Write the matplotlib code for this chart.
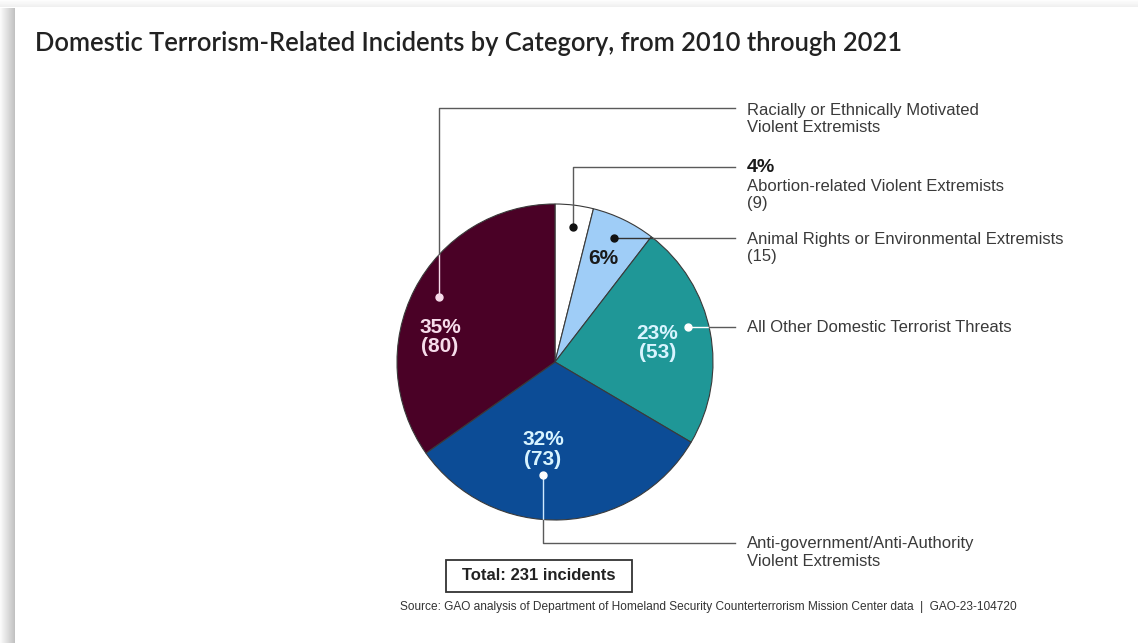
import numpy as np
import matplotlib.pyplot as plt
from matplotlib.patches import Rectangle

# data (clockwise from 12 o'clock)
categories = ['Abortion-related Violent Extremists',
              'Animal Rights or Environmental Extremists',
              'All Other Domestic Terrorist Threats',
              'Anti-government/Anti-Authority\nViolent Extremists',
              'Racially or Ethnically Motivated\nViolent Extremists']
counts = [9, 15, 53, 73, 80]
pct_labels = ['4%', '6%', '23%', '32%', '35%']
total_label = 'Total: 231 incidents'
title = 'Domestic Terrorism-Related Incidents by Category, from 2010 through 2021'
source = ('Source: GAO analysis of Department of Homeland Security Counterterrorism '
          'Mission Center data  |  GAO-23-104720')

colors = ['#ffffff', '#9fcdf7', '#1f9797', '#0c4c96', '#4a0126']
W, H = 1138, 643

fig = plt.figure(figsize=(W / 100, H / 100), dpi=100)
ax = fig.add_axes([0, 0, 1, 1])
ax.axis('off')

# card shadow on the left and top edges
for i in range(15):
    a = 0.45 * (i + 1) / 15
    ax.add_patch(Rectangle((i, 0), 1, H - 8, color='#777777', alpha=a, lw=0))
for i in range(7):
    a = 0.12 * (7 - i) / 7
    ax.add_patch(Rectangle((0, H - 7 + i), W, 1, color='#888888', alpha=a, lw=0))

cx, cy, R = 555, 281, 158
wedges, _ = ax.pie(counts, colors=colors, startangle=90, counterclock=False,
                   center=(cx, cy), radius=R,
                   wedgeprops=dict(edgecolor='#3a3a3a', linewidth=0.8))
ax.set_xlim(0, W)
ax.set_ylim(0, H)
ax.set_aspect('equal')


def polar(theta_deg, r):
    t = np.deg2rad(theta_deg)
    return cx + r * np.cos(t), cy + r * np.sin(t)


mids = [(w.theta1 + w.theta2) / 2 for w in wedges]

# percentage labels inside slices (angle offset, radius fraction)
lab_pos = [None, (0.8, 0.72), (-0.5, 0.66), (-10.2, 0.56), (15.1, 0.745)]
lab_col = [None, '#1a1a1a', '#d8f4ff', '#d8f4ff', '#f6dcea']
for i, p in enumerate(lab_pos):
    if p is None:
        continue
    x, y = polar(mids[i] + p[0], R * p[1])
    txt = pct_labels[i] if i == 1 else f'{pct_labels[i]}\n({counts[i]})'
    ax.text(x, y, txt, ha='center', va='center', fontsize=15, fontweight='bold',
            color=lab_col[i], family='Liberation Sans', linespacing=1.05)

line_col = '#5a5a5a'
xend = 735
xtext = 747
tkw = dict(family='Liberation Sans', fontsize=12, color='#3a3a3a', va='center')

# dot positions (angle offset, radius fraction) and inner line colours
dot_pos = [(-0.56, 0.86), (0.5, 0.87), (3.7, 0.87), (-8.4, 0.72), (-2.1, 0.84)]
dot_col = ['#111111', '#111111', '#ffffff', '#ffffff', '#f6dcea']
inner_col = ['#333333', '#333333', '#ffffff', '#cfe9ff', '#f6dcea']
elbow_y = [H - 167, None, None, H - 543, H - 108]

for i in range(5):
    dx, dy = polar(mids[i] + dot_pos[i][0], R * dot_pos[i][1])
    ey = elbow_y[i]
    if ey is None:
        # horizontal run straight out to the right
        edge_x = cx + np.sqrt(max(R ** 2 - (dy - cy) ** 2, 0))
        ax.plot([dx, edge_x], [dy, dy], color=inner_col[i], lw=1, zorder=3)
        ax.plot([edge_x, xend], [dy, dy], color=line_col, lw=1, zorder=3)
    else:
        half = np.sqrt(max(R ** 2 - (dx - cx) ** 2, 0))
        edge_y = cy + half if ey > dy else cy - half
        if i == 0:
            edge_y = dy
        ax.plot([dx, dx], [dy, edge_y], color=inner_col[i], lw=1, zorder=3)
        ax.plot([dx, dx, xend], [edge_y, ey, ey], color=line_col, lw=1, zorder=3)
    ax.plot(dx, dy, 'o', ms=5, color=dot_col[i], zorder=4)

# right side category labels
ax.text(xtext, H - 119, categories[4], linespacing=1.17, **tkw)
ax.text(xtext, H - 167, pct_labels[0], family='Liberation Sans', fontsize=14,
        fontweight='bold', color='#1a1a1a', va='center')
ax.text(xtext, H - 195, f'{categories[0]}\n({counts[0]})', linespacing=1.17, **tkw)
ax.text(xtext, H - 248, f'{categories[1]}\n({counts[1]})', linespacing=1.17, **tkw)
ax.text(xtext, H - 327, categories[2], **tkw)
ax.text(xtext, H - 552.5, categories[3], linespacing=1.17, **tkw)

# total box
ax.add_patch(Rectangle((446, H - 592), 186, 32, fc='white', ec='#333333', lw=1.3))
ax.text(539, H - 576, total_label, ha='center', va='center', family='Liberation Sans',
        fontsize=12, fontweight='bold', color='#222222')

# title and source
ax.text(35, H - 44, title, family='Lato', fontsize=18.4, fontweight='semibold',
        color='#222222', va='center')
ax.text(708, H - 607, source, ha='center', va='center', family='Liberation Sans',
        fontsize=8.6, color='#333333')

fig.savefig('out.png', dpi=100, facecolor='white')
